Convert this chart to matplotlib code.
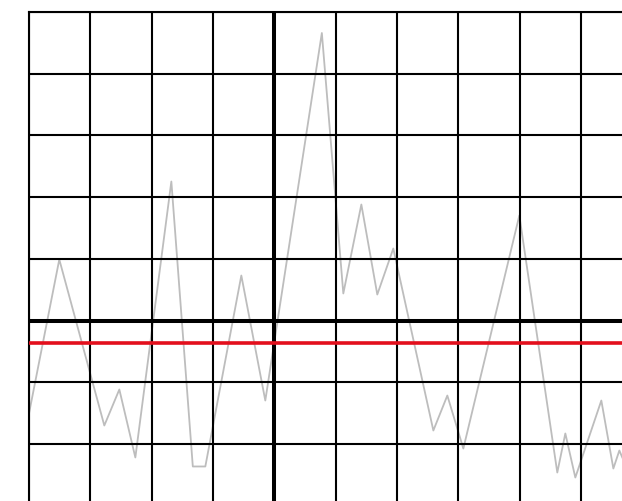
import matplotlib
matplotlib.use("Agg")
import matplotlib.pyplot as plt
import numpy as np

# Signal trace (divisions)
trace_x = [-4.0, -3.506, -2.772, -2.527, -2.266, -1.679, -1.329, -1.125, -0.538, -0.147,
           0.775, 1.125, 1.419, 1.679, 1.940, 2.593, 2.821, 3.082, 3.995, 4.614,
           4.745, 4.908, 5.332, 5.528, 5.626, 5.674]
trace_y = [-1.507, 0.989, -1.702, -1.118, -2.220, 2.253, -2.366, -2.366, 0.729, -1.297,
           4.660, 0.438, 1.880, 0.421, 1.167, -1.783, -1.216, -2.075, 1.702, -2.464,
           -1.831, -2.545, -1.297, -2.399, -2.107, -2.220]

# Reference level
ref_level = -0.357

# Grid
x_ticks = list(range(-4, 7))
y_ticks = list(range(-3, 6))

W, H = 622, 501
fig = plt.figure(figsize=(W / 100, H / 100), dpi=100)
div_x = 61.33
div_y = 61.7
left = 29
top = 12
ax = fig.add_axes([left / W, (H - top - 8 * div_y) / H, 10 * div_x / W, 8 * div_y / H])
ax.set_xlim(-4, 6)
ax.set_ylim(-3, 5)

ax.plot(trace_x, trace_y, color="#bdbdbd", lw=1.3, zorder=1)

ax.set_xticks(x_ticks)
ax.set_yticks(y_ticks)
ax.tick_params(length=0, labelbottom=False, labelleft=False)
ax.set_axisbelow(False)
ax.grid(True, color="black", lw=1.5)

ax.axvline(0, color="black", lw=2.9, zorder=2.6)
ax.axhline(0, color="black", lw=2.9, zorder=2.6)
ax.axhline(ref_level, color="#e30f1c", lw=2.6, zorder=3)

for s in ax.spines.values():
    s.set_color("black")
    s.set_linewidth(1.5)

fig.savefig("out.png", dpi=100)
